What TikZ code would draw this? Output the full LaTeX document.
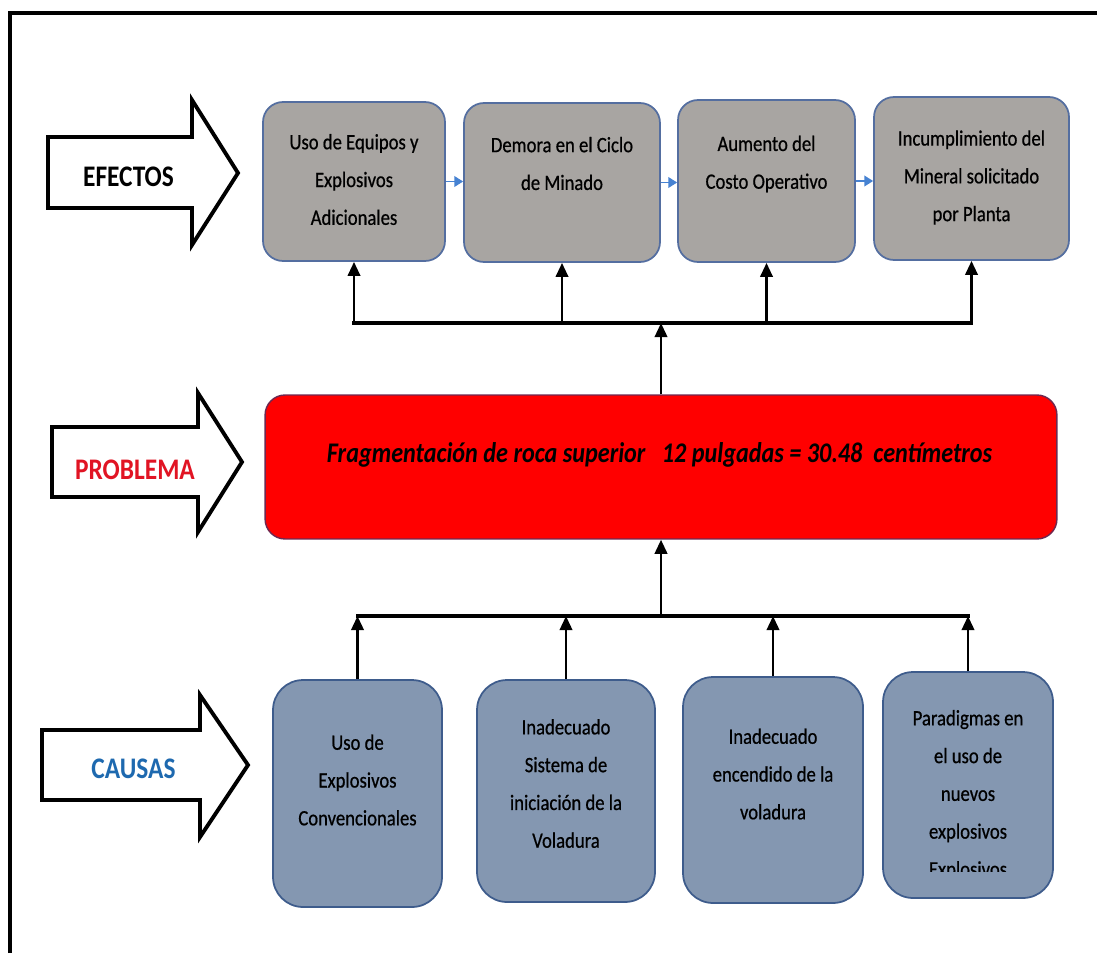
\documentclass[tikz,border=0pt]{standalone}
\usepackage{fontspec}
\setmainfont{Carlito}[FakeStretch=0.85]
\newfontfamily\boxfont{Carlito}[FakeStretch=0.85, FakeBold=0.6]
\usetikzlibrary{arrows.meta}
\definecolor{effill}{RGB}{168,165,162}
\definecolor{efdraw}{RGB}{84,110,160}
\definecolor{cafill}{RGB}{132,151,177}
\definecolor{cadraw}{RGB}{62,92,140}
\definecolor{prfill}{RGB}{255,0,0}
\definecolor{prdraw}{RGB}{110,40,80}
\definecolor{flowblue}{RGB}{70,130,210}
\definecolor{labred}{RGB}{225,20,35}
\definecolor{labblue}{RGB}{30,105,175}
\begin{document}
\begin{tikzpicture}[x=0.02cm,y=-0.02cm,
 effbox/.style={draw=efdraw, line width=1pt, fill=effill, rounded corners=0.4cm, inner sep=0pt},
 causebox/.style={draw=cadraw, line width=1pt, fill=cafill, rounded corners=0.6cm, inner sep=0pt},
 probbox/.style={draw=prdraw, line width=0.8pt, fill=prfill, rounded corners=0.4cm, inner sep=0pt, minimum width=15.84cm, minimum height=2.88cm},
 boxtext/.style={align=center, font=\boxfont\fontsize{12.5}{21.5}\selectfont, inner sep=0pt},
 lab/.style={font=\bfseries\fontsize{17}{20}\selectfont, inner sep=0pt},
 bigarrow/.style={draw=black, line width=2.2pt, fill=white, line join=miter},
 conn/.style={line width=1.6pt, -{Triangle[length=8pt,width=7pt]}},
 busline/.style={line width=1.8pt, line cap=rect},
 flow/.style={draw=flowblue, line width=1pt, -{Triangle[length=5pt,width=6pt]}}
]
\useasboundingbox (0,0) rectangle (1097,953);
\fill[white] (0,0) rectangle (1097,953);
% frame
\draw[line width=2.6pt] (10,953) -- (10,13) -- (1097,13);

% label arrows
\draw[bigarrow] (48,137) -- (192,137) -- (192,100) -- (238,173) -- (192,245) -- (192,208) -- (48,208) -- cycle;
\node[lab, text=black] (lefe) at (128.5,177) {EFECTOS};
\draw[bigarrow] (52,427) -- (198,427) -- (198,393) -- (242,462) -- (198,532) -- (198,497) -- (52,497) -- cycle;
\node[lab, text=labred] (lpro) at (135,470) {PROBLEMA};
\draw[bigarrow] (42,730) -- (200,730) -- (200,695) -- (248,765) -- (200,837) -- (200,800) -- (42,800) -- cycle;
\node[lab, text=labblue] (lcau) at (133.5,769) {CAUSAS};

% effect boxes
\node[effbox, minimum width=3.64cm, minimum height=3.18cm] (e1) at (354,181.5) {};
\node[effbox, minimum width=3.92cm, minimum height=3.18cm] (e2) at (562,182.5) {};
\node[effbox, minimum width=3.54cm, minimum height=3.24cm] (e3) at (766.5,181) {};
\node[effbox, minimum width=3.90cm, minimum height=3.26cm] (e4) at (971.5,178.5) {};
\node[boxtext] (t1) at (354,179.5) {Uso de Equipos y\\Explosivos\\Adicionales};
\node[boxtext] (t2) at (562,163.5) {Demora en el Ciclo\\de Minado};
\node[boxtext] (t3) at (766.5,164) {Aumento del\\Costo Operativo};
\node[boxtext] (t4) at (971.5,177.5) {Incumplimiento del\\Mineral solicitado\\por Planta};

% blue flow arrows
\draw[flow] (e1.east) -- (e1.east -| e2.west);
\draw[flow] (e2.east) -- (e2.east -| e3.west);
\draw[flow] (e3.east) -- (e3.east -| e4.west);

% problem box
\node[probbox] (p) at (661,467) {};
\node[font=\bfseries\itshape\fontsize{16.2}{19}\selectfont, inner sep=0pt] (pt) at (659.5,455) {Fragmentación de roca superior\ \ \ 12 pulgadas = 30.48\ \ centímetros};

% cause boxes
\node[causebox, minimum width=3.38cm, minimum height=4.54cm] (c1) at (357.5,793.5) {};
\node[causebox, minimum width=3.56cm, minimum height=4.44cm] (c2) at (566,791) {};
\node[causebox, minimum width=3.60cm, minimum height=4.52cm] (c3) at (773,790) {};
\node[causebox, minimum width=3.40cm, minimum height=4.52cm] (c4) at (968,785) {};
\node[boxtext] (u1) at (357.5,780) {Uso de\\Explosivos\\Convencionales};
\node[boxtext] (u2) at (566,783.5) {Inadecuado\\Sistema de\\iniciación de la\\Voladura};
\node[boxtext] (u3) at (773,774) {Inadecuado\\encendido de la\\voladura};
\begin{scope}
\clip (885,674) rectangle (1051,871);
\node[boxtext] (u4) at (968,795) {Paradigmas en\\el uso de\\nuevos\\explosivos\\Explosivos};
\end{scope}

% upper connectors
\coordinate (bu) at (661,323);
\draw[conn] (p.north) -- (bu);
\draw[busline] (e1.south |- bu) -- (e4.south |- bu);
\draw[conn] (e1.south |- bu) -- (e1.south);
\draw[conn] (e2.south |- bu) -- (e2.south);
\draw[conn] (e3.south |- bu) -- (e3.south);
\draw[conn] (e4.south |- bu) -- (e4.south);

% lower connectors
\coordinate (bl) at (661,616);
\draw[busline] (c1.north |- bl) -- (c4.north |- bl);
\draw[conn] (bl) -- (p.south);
\draw[conn] (c1.north) -- (c1.north |- bl);
\draw[conn] (c2.north) -- (c2.north |- bl);
\draw[conn] (c3.north) -- (c3.north |- bl);
\draw[conn] (c4.north) -- (c4.north |- bl);
\end{tikzpicture}
\end{document}
